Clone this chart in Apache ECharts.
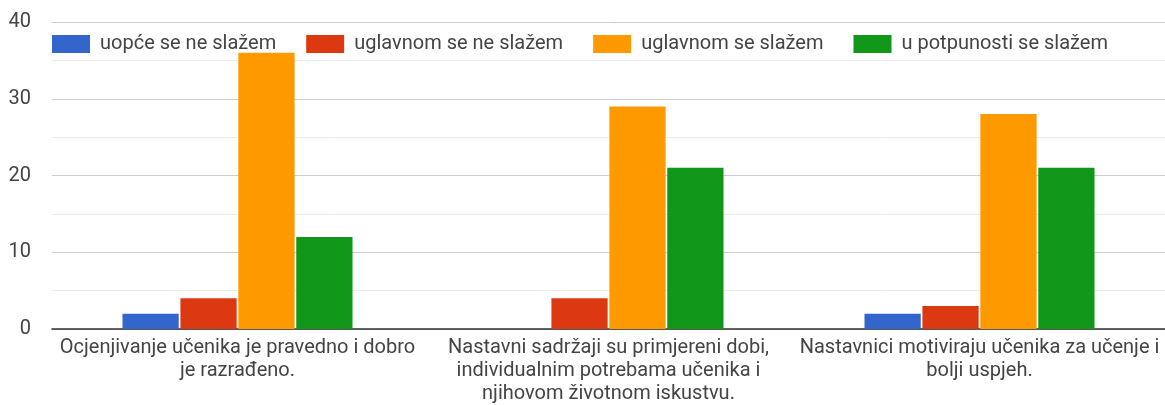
<html>
<head>
<meta charset="UTF-8">
<script src="https://cdn.jsdelivr.net/npm/echarts@6/dist/echarts.min.js"></script>
</head>
<body style="margin:0;background:#fff">
<div id="chart" style="width:1165px;height:405px"></div>
<script>
    // podaci
    var categories = [
        'Ocjenjivanje učenika je pravedno i dobro\nje razrađeno.',
        'Nastavni sadržaji su primjereni dobi,\nindividualnim potrebama učenika i\nnjihovom životnom iskustvu.',
        'Nastavnici motiviraju učenika za učenje i\nbolji uspjeh.'
    ];
    var seriesNames = ['uopće se ne slažem', 'uglavnom se ne slažem', 'uglavnom se slažem', 'u potpunosti se slažem'];
    var uopceNe = [2, 0, 2];
    var uglavnomNe = [4, 4, 3];
    var uglavnomDa = [36, 29, 28];
    var potpunoDa = [12, 21, 21];
    var yTicks = [0, 10, 20, 30, 40];

    var colors = ['#3366cc', '#dc3912', '#ff9900', '#109618'];
    var values = [uopceNe, uglavnomNe, uglavnomDa, potpunoDa];

    var chart = echarts.init(document.getElementById('chart'));
    var series = [];
    for (var i = 0; i < seriesNames.length; i++) {
        series.push({
            name: seriesNames[i],
            type: 'bar',
            data: values[i],
            barGap: '3%',
            barCategoryGap: '38%',
            itemStyle: {color: colors[i]}
        });
    }

    chart.setOption({
        animation: false,
        textStyle: {fontFamily: 'Roboto'},
        grid: {left: 52, right: -7, top: 22, bottom: 75},
        legend: {
            left: 47,
            top: 29,
            itemWidth: 38,
            itemHeight: 18,
            itemGap: 30,
            icon: 'rect',
            textStyle: {fontSize: 20, color: '#444', padding: [0, 0, 0, 5], fontFamily: 'Roboto'},
            data: seriesNames
        },
        xAxis: {
            type: 'category',
            data: categories,
            axisTick: {show: false},
            axisLine: {lineStyle: {color: '#333', width: 1.5}},
            axisLabel: {fontSize: 20, color: '#444', lineHeight: 23, margin: 7, interval: 0, fontFamily: 'Roboto'}
        },
        yAxis: {
            type: 'value',
            min: yTicks[0],
            max: yTicks[yTicks.length - 1],
            interval: 10,
            axisLabel: {fontSize: 20, color: '#444', margin: 21, fontFamily: 'Roboto'},
            splitLine: {lineStyle: {color: '#ccc', width: 1}},
            minorTick: {show: false, splitNumber: 2},
            minorSplitLine: {show: true, lineStyle: {color: '#ebebeb', width: 1}}
        },
        series: series
    });
</script>
</body>
</html>
